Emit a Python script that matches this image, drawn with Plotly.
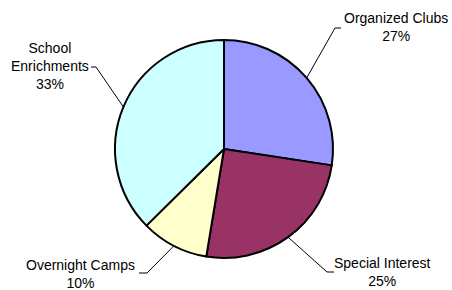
import math
import plotly.graph_objects as go

# ---- data ----
categories = ["Organized Clubs", "Special Interest", "Overnight Camps", "School Enrichments"]
values = [27.4, 25.2, 10.0, 37.4]          # slice sizes
pct_labels = ["27%", "25%", "10%", "33%"]   # percentages as printed on the chart
colors = ["#9999FF", "#993366", "#FFFFCC", "#CCFFFF"]

# ---- layout config (pixels) ----
W, H = 452, 290
CX, CY, R = 224, 149, 109
# label centre and leader elbow (near end, far end) per category
label_text = ["Organized Clubs", "Special Interest", "Overnight Camps", "School<br>Enrichments"]
label_pos = [(396, 27), (382, 272), (80, 274), (50, 66)]
elbows = [((335, 28), (341, 28)),
          ((327, 272), (334, 272)),
          ((147, 273), (139, 273)),
          ((96, 67), (91, 67))]

def px(x, y):
    return x / W, 1 - y / H

fig = go.Figure(go.Pie(
    labels=categories, values=values, sort=False, direction="clockwise", rotation=0,
    marker=dict(colors=colors, line=dict(color="black", width=2)),
    textinfo="none", hoverinfo="label+percent", showlegend=False,
    domain=dict(x=[(CX - R) / W, (CX + R) / W], y=[(H - CY - R) / H, (H - CY + R) / H]),
))

total = sum(values)
cum = 0.0
shapes, annotations = [], []
for i, v in enumerate(values):
    mid = (cum + v / 2) / total * 2 * math.pi
    cum += v
    ex, ey = CX + R * math.sin(mid), CY - R * math.cos(mid)
    (ax, ay), (bx, by) = elbows[i]
    pts = [px(ex, ey), px(ax, ay), px(bx, by)]
    path = "M {} {} L {} {} L {} {}".format(*[c for p in pts for c in p])
    shapes.append(dict(type="path", xref="paper", yref="paper", path=path,
                       line=dict(color="black", width=1)))
    lx, ly = px(*label_pos[i])
    annotations.append(dict(x=lx, y=ly, xref="paper", yref="paper", showarrow=False,
                            text=f"{label_text[i]}<br>{pct_labels[i]}",
                            xanchor="center", yanchor="middle", align="center",
                            font=dict(family="Liberation Sans, Arial", size=14, color="black")))

fig.update_layout(width=W, height=H, margin=dict(l=0, r=0, t=0, b=0),
                  paper_bgcolor="white", plot_bgcolor="white",
                  shapes=shapes, annotations=annotations)
fig.write_html("out.html", config={"displayModeBar": False},
               post_script="document.body.style.margin='0px';document.body.style.overflow='hidden';")
